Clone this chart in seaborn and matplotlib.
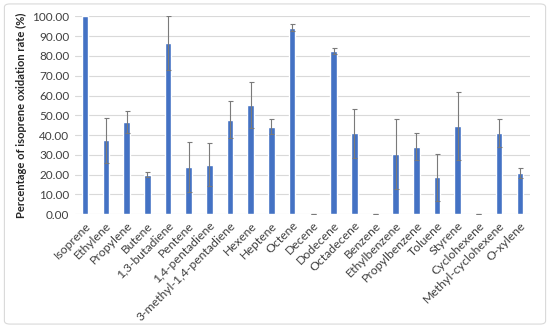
import numpy as np
import pandas as pd
import matplotlib
matplotlib.use("Agg")
import matplotlib.pyplot as plt
import seaborn as sns
from matplotlib.patches import FancyBboxPatch

compounds = ["Isoprene", "Ethylene", "Propylene", "Butene", "1,3-butadiene",
             "Pentene", "1,4-pentadiene", "3-methyl-1,4-pentadiene", "Hexene",
             "Heptene", "Octene", "Decene", "Dodecene", "Octadecene", "Benzene",
             "Ethylbenzene", "Propylbenzene", "Toluene", "Styrene", "Cyclohexene",
             "Methyl-cyclohexene", "O-xylene"]
rate = [100.0, 37.3, 46.5, 20.0, 86.5, 23.8, 25.0, 47.7, 55.3, 44.3, 94.2, 0.0,
        82.5, 40.8, 0.0, 30.3, 34.0, 18.6, 44.6, 0.0, 40.9, 20.8]
err = [0.0, 11.5, 5.5, 1.3, 13.5, 12.5, 10.8, 9.3, 11.5, 4.0, 1.8, 0.0,
       1.7, 12.3, 0.0, 17.6, 6.8, 11.7, 17.3, 0.0, 7.0, 2.4]

df = pd.DataFrame({"compound": compounds, "rate": rate, "err": err})
df["pos"] = np.arange(len(df))

sns.set_style("white")
plt.rcParams["font.family"] = ["Lato", "DejaVu Sans"]

fig = plt.figure(figsize=(5.5, 3.28), dpi=100)
ax = fig.add_axes([0.136, 0.347, 0.828, 0.603])

# light frame round the whole chart
fig.patches.append(FancyBboxPatch((0.008, 0.012), 0.984, 0.976,
                                  boxstyle="round,pad=0,rounding_size=0.01",
                                  transform=fig.transFigure, fill=False,
                                  edgecolor="#d9d9d9", linewidth=0.8))

sns.barplot(data=df, x="compound", y="rate", color="#4472C4", width=0.32,
            saturation=1, errorbar=None, ax=ax, zorder=3)

# error bars (skip the reference compound itself)
eb = df[df["rate"] < 100]
ax.errorbar(eb["pos"], eb["rate"], yerr=eb["err"], fmt="none",
            ecolor="#7a7a7a", elinewidth=0.8, capsize=1.8, capthick=0.8, zorder=4)

ax.set_ylim(0, 100)
ax.set_yticks(np.arange(0, 101, 10))
ax.set_yticklabels([f"{v:.2f}" for v in np.arange(0, 101, 10)], fontsize=8.5, color="#404040")
ax.yaxis.grid(True, color="#d9d9d9", linewidth=0.8)
ax.set_axisbelow(True)
ax.set_xlim(-0.5, len(df) - 0.5)
ax.set_xlabel("")
ax.set_ylabel("Percentage of isoprene oxidation rate (%)", fontsize=8,
              fontweight="bold", color="#262626")
ax.set_xticks(df["pos"])
ax.set_xticklabels(compounds, rotation=45, ha="right", rotation_mode="anchor",
                   fontsize=8.8, color="#404040")
ax.tick_params(axis="both", length=0, pad=4)
for s in ax.spines.values():
    s.set_visible(False)

fig.savefig("out.png", dpi=100)
